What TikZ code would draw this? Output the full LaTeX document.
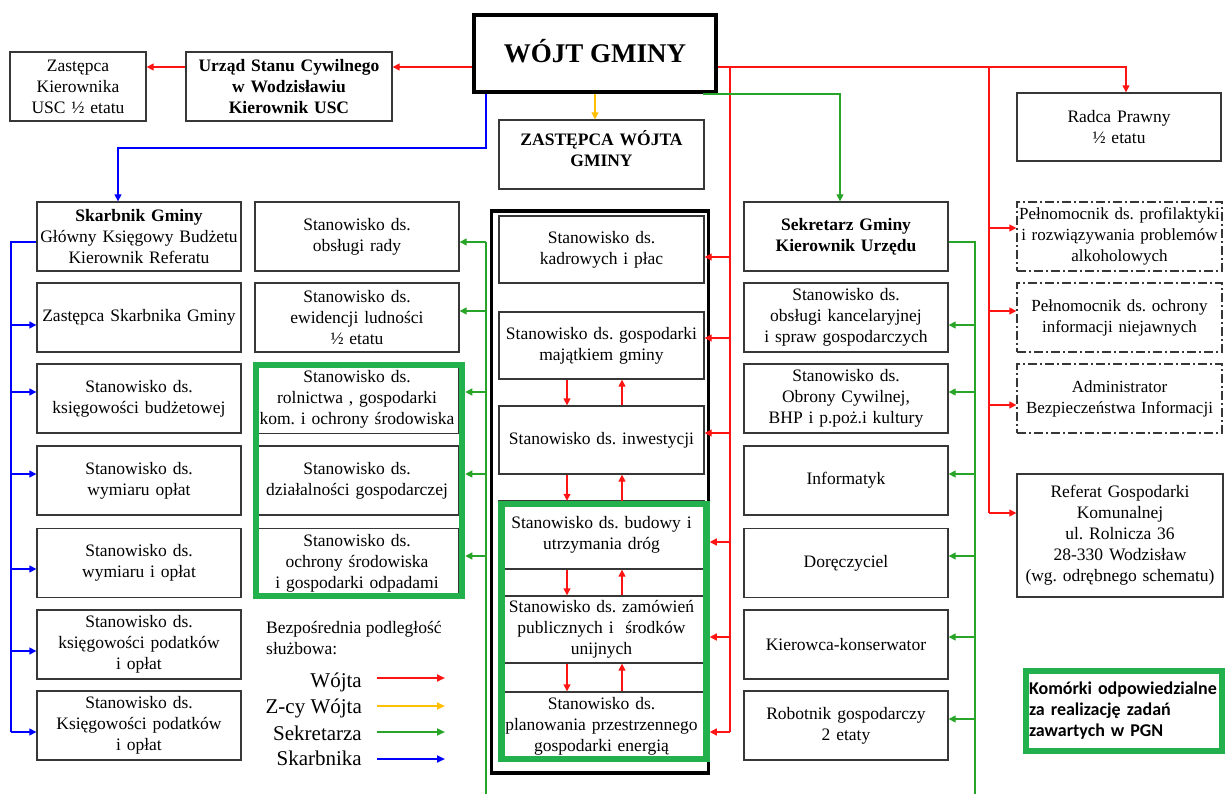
\documentclass[tikz,border=0pt]{standalone}
\usepackage{fontspec}
\setmainfont{Liberation Serif}
\newfontfamily\calib{Carlito}
\usetikzlibrary{arrows.meta}
\definecolor{cred}{RGB}{255,20,20}
\definecolor{cyel}{RGB}{255,192,0}
\definecolor{cgrn}{RGB}{40,165,40}
\definecolor{cblu}{RGB}{0,0,255}
\definecolor{pgn}{RGB}{34,177,76}
\definecolor{bord}{RGB}{55,55,55}
\newcommand\fsn{\fontsize{17.5}{21}\selectfont\frenchspacing}
\newcommand\fss{\fontsize{17}{21}\selectfont\frenchspacing}
\newcommand\fsl{\fontsize{21}{24}\selectfont}
\begin{document}
\frenchspacing
\begin{tikzpicture}[x=1pt,y=-1pt,
  bx/.style={draw=bord, line width=1.3pt, fill=white, inner sep=0pt, align=center, font=\fsn, text width=#1, minimum height=69pt},
  bx/.default=204pt,
  dd/.style={dash pattern=on 9pt off 3pt on 2pt off 3pt},
  frm/.style={draw=pgn, line width=6.5pt, inner sep=0pt},
  ar/.style={-{Triangle[length=7pt,width=7pt]}},
  rl/.style={draw=cred, line width=1.3pt},
  gl/.style={draw=cgrn, line width=1.3pt},
  bl/.style={draw=cblu, line width=1.3pt},
  yl/.style={draw=cyel, line width=1.3pt},
  lg/.style={line width=2.2pt, -{Triangle[length=8pt,width=7pt]}}
]
\useasboundingbox (0,0) rectangle (1225,794);

% ---- top row
\node[bx=136pt] (zk) at (78,86.5) {Zastępca\\Kierownika\\USC ½ etatu};
\node[bx=206pt, font=\fsn\bfseries] (usc) at (289,86.5) {Urząd Stanu Cywilnego\\w Wodzisławiu\\Kierownik USC};
\node[draw=black, line width=4pt, minimum width=242pt, minimum height=77pt, inner sep=0pt, font=\bfseries\fontsize{27}{30}\selectfont] (wojt) at (595,53.5) {\raisebox{5pt}{WÓJT GMINY}};
\node[bx=205pt, font=\fsn\bfseries] (zw) at (601.5,154.5) {ZASTĘPCA WÓJTA\\GMINY\\[-8pt]\mbox{}};
\node[bx=204pt, minimum height=68pt] (radca) at (1119,127) {Radca Prawny\\½ etatu};

% ---- column 1 (Skarbnik)
\node[bx] (sk0) at (139,236.5) {\textbf{Skarbnik Gminy}\\Główny Księgowy Budżetu\\Kierownik Referatu};
\node[bx] (sk1) at (139,317.5) {Zastępca Skarbnika Gminy};
\node[bx] (sk2) at (139,398.5) {Stanowisko ds.\\księgowości budżetowej};
\node[bx] (sk3) at (139,480.5) {Stanowisko ds.\\wymiaru opłat};
\node[bx] (sk4) at (139,563) {Stanowisko ds.\\wymiaru i opłat};
\node[bx] (sk5) at (139,644.5) {Stanowisko ds.\\księgowości podatków\\i opłat};
\node[bx] (sk6) at (139,725.5) {Stanowisko ds.\\Księgowości podatków\\i opłat};

% ---- column 2
\node[bx] (c2a) at (357,236.5) {Stanowisko ds.\\obsługi rady};
\node[bx] (c2b) at (357,317.5) {Stanowisko ds.\\ewidencji ludności\\½ etatu};
\node[bx] (c2c) at (357,399) {Stanowisko ds.\\rolnictwa , gospodarki\\kom. i ochrony środowiska};
\node[bx] (c2d) at (357,480.5) {Stanowisko ds.\\działalności gospodarczej};
\node[bx] (c2e) at (357,563) {Stanowisko ds.\\ochrony środowiska\\i gospodarki odpadami};
\node[frm, minimum width=206pt, minimum height=231pt] (g1) at (359,480.5) {};

% ---- middle column
\node[bx=205pt, minimum height=67pt] (m1) at (601.5,249.5) {Stanowisko ds.\\kadrowych i płac};
\node[bx=205pt, minimum height=67pt] (m2) at (601.5,345.5) {Stanowisko ds. gospodarki\\majątkiem gminy};
\node[bx=205pt, minimum height=68pt] (m3) at (601.5,440) {Stanowisko ds. inwestycji};
\node[bx=205pt, minimum height=68pt] (m4) at (601.5,535) {Stanowisko ds. budowy i\\utrzymania dróg};
\node[bx=205pt, minimum height=67pt] (m5) at (601.5,629.5) {Stanowisko ds. zamówień\\publicznych i \ środków\\unijnych};
\node[bx=205pt, minimum height=68pt] (m6) at (601.5,726) {Stanowisko ds.\\planowania przestrzennego\\gospodarki energią};
\node[draw=black, line width=3.5pt, minimum width=217pt, minimum height=562pt, inner sep=0pt] (blk) at (600,492) {};
\node[frm, minimum width=205pt, minimum height=255pt] (g2) at (604,631.5) {};

% ---- column 4 (Sekretarz)
\node[bx, font=\fsn\bfseries] (s0) at (846,236.5) {Sekretarz Gminy\\Kierownik Urzędu};
\node[bx] (s1) at (846,317.5) {Stanowisko ds.\\obsługi kancelaryjnej\\i spraw gospodarczych};
\node[bx] (s2) at (846,398.5) {Stanowisko ds.\\Obrony Cywilnej,\\BHP i p.poż.i kultury};
\node[bx] (s3) at (846,480.5) {Informatyk};
\node[bx] (s4) at (846,563) {Doręczyciel};
\node[bx] (s5) at (846,644.5) {Kierowca-konserwator};
\node[bx] (s6) at (846,725.5) {Robotnik gospodarczy\\2 etaty};

% ---- column 5
\node[bx=205pt, dd, font=\fss] (p1) at (1119.5,236.5) {Pełnomocnik ds. profilaktyki\\i rozwiązywania problemów\\alkoholowych};
\node[bx=205pt, dd, font=\fss] (p2) at (1119.5,317.5) {Pełnomocnik ds. ochrony\\informacji niejawnych};
\node[bx=205pt, dd, font=\fss] (p3) at (1119.5,398.5) {Administrator\\Bezpieczeństwa Informacji};
\node[bx=206pt, minimum height=123pt] (ref) at (1120,535.5) {Referat Gospodarki\\Komunalnej\\ul. Rolnicza 36\\28-330 Wodzisław\\(wg. odrębnego schematu)};

% ---- PGN note
\node[frm, line width=6pt, minimum width=196pt, minimum height=80pt, text width=190pt, align=left,
      font=\calib\bfseries\fontsize{18}{21}\selectfont] (pgnnote) at (1124,711) {Komórki odpowiedzialne\\za realizację zadań\\zawartych w PGN};

% ---- helper coordinates
\coordinate (RY) at (0,67);
\coordinate (RV) at (730,67);
\coordinate (RW) at (989,67);
\coordinate (GR) at (975,242);
\coordinate (GRb) at (975,794);
\coordinate (GL) at (486,242);
\coordinate (GLb) at (486,794);
\coordinate (BL) at (11,242);
\coordinate (B1) at (486,148);
\coordinate (DX) at (567,0);
\coordinate (UX) at (622,0);

% ---- red (Wójt)
\draw[rl, ar] (wojt.west |- RY) -- (usc.east |- RY);
\draw[rl, ar] (usc.west |- RY) -- (zk.east |- RY);
\draw[rl, ar] (wojt.east |- RY) -| ([xshift=7pt]radca.north);
\draw[rl] (RV) -- ([yshift=-6pt]m6.east -| RV);
\draw[rl, ar] ([yshift=-7.5pt]m1.east -| RV) -- ([yshift=-7.5pt]m1.east);
\draw[rl, ar] ([yshift=7.5pt]m2.east -| RV) -- ([yshift=7.5pt]m2.east);
\draw[rl, ar] ([yshift=7pt]m3.east -| RV) -- ([yshift=7pt]m3.east);
\draw[rl, ar] ([yshift=-7pt]m4.east -| RV) -- ([yshift=-7pt]m4.east -| g2.east);
\draw[rl, ar] ([yshift=-7.5pt]m5.east -| RV) -- ([yshift=-7.5pt]m5.east -| g2.east);
\draw[rl, ar] ([yshift=-6pt]m6.east -| RV) -- ([yshift=-6pt]m6.east -| g2.east);
\draw[rl] (RW) -- ([yshift=22.5pt]ref.west -| RW);
\draw[rl, ar] ([yshift=8.5pt]p1.west -| RW) -- ([yshift=8.5pt]p1.west);
\draw[rl, ar] ([yshift=6.5pt]p2.west -| RW) -- ([yshift=6.5pt]p2.west);
\draw[rl, ar] ([yshift=-6.5pt]p3.west -| RW) -- ([yshift=-6.5pt]p3.west);
\draw[rl, ar] ([yshift=22.5pt]ref.west -| RW) -- ([yshift=22.5pt]ref.west);
% vertical pairs in the middle column
\draw[rl, ar] (m2.south -| DX) -- (m3.north -| DX);
\draw[rl, ar] (m3.north -| UX) -- (m2.south -| UX);
\draw[rl, ar] (m3.south -| DX) -- (g2.north -| DX);
\draw[rl, ar] (g2.north -| UX) -- (m3.south -| UX);
\draw[rl, ar] (m4.south -| DX) -- (m5.north -| DX);
\draw[rl, ar] (m5.north -| UX) -- (m4.south -| UX);
\draw[rl, ar] (m5.south -| DX) -- (m6.north -| DX);
\draw[rl, ar] (m6.north -| UX) -- (m5.south -| UX);

% ---- yellow (Z-cy Wójta)
\draw[yl, ar] (wojt.south) -- (zw.north -| wojt.south);

% ---- green (Sekretarz)
\draw[gl, ar] ([xshift=108pt]wojt.south) -| ([xshift=-6pt]s0.north);
\draw[gl] ([yshift=-5.5pt]s0.east) -| (GRb);
\draw[gl, ar] ([yshift=-7.5pt]s1.east -| GR) -- ([yshift=-7.5pt]s1.east);
\draw[gl, ar] ([yshift=6.5pt]s2.east -| GR) -- ([yshift=6.5pt]s2.east);
\draw[gl, ar] ([yshift=6.5pt]s3.east -| GR) -- ([yshift=6.5pt]s3.east);
\draw[gl, ar] ([yshift=7pt]s4.east -| GR) -- ([yshift=7pt]s4.east);
\draw[gl, ar] ([yshift=7.5pt]s5.east -| GR) -- ([yshift=7.5pt]s5.east);
\draw[gl, ar] ([yshift=6.5pt]s6.east -| GR) -- ([yshift=6.5pt]s6.east);
\draw[gl] (GL) -- (GLb);
\draw[gl, ar] ([yshift=-5.5pt]c2a.east -| GL) -- ([yshift=-5.5pt]c2a.east);
\draw[gl, ar] ([yshift=6.5pt]c2b.east -| GL) -- ([yshift=6.5pt]c2b.east);
\draw[gl, ar] ([yshift=7pt]c2c.east -| GL) -- ([yshift=7pt]c2c.east -| g1.east);
\draw[gl, ar] ([yshift=6.5pt]c2d.east -| GL) -- ([yshift=6.5pt]c2d.east -| g1.east);
\draw[gl, ar] ([yshift=7pt]c2e.east -| GL) -- ([yshift=7pt]c2e.east -| g1.east);

% ---- blue (Skarbnik)
\draw[bl, ar] (wojt.south -| B1) -- (B1) -| ([xshift=-21pt]sk0.north);
\draw[bl] ([yshift=-5.5pt]sk0.west) -| ([yshift=-6.5pt]sk6.west -| BL);
\draw[bl, ar] ([yshift=-7.5pt]sk1.west -| BL) -- ([yshift=-7.5pt]sk1.west);
\draw[bl, ar] ([yshift=6.5pt]sk2.west -| BL) -- ([yshift=6.5pt]sk2.west);
\draw[bl, ar] ([yshift=6.5pt]sk3.west -| BL) -- ([yshift=6.5pt]sk3.west);
\draw[bl, ar] ([yshift=-6pt]sk4.west -| BL) -- ([yshift=-6pt]sk4.west);
\draw[bl, ar] ([yshift=-6.5pt]sk5.west -| BL) -- ([yshift=-6.5pt]sk5.west);
\draw[bl, ar] ([yshift=-6.5pt]sk6.west -| BL) -- ([yshift=-6.5pt]sk6.west);

% ---- legend
\node[anchor=west, align=left, font=\fsn, inner sep=0pt] (lgt) at (266,638) {Bezpośrednia podległość\\służbowa:};
\node[anchor=east, font=\fsl, inner sep=0pt] (lw1) at (362,682) {Wójta};
\node[anchor=east, font=\fsl, inner sep=0pt] (lw2) at (362,708) {Z-cy Wójta};
\node[anchor=east, font=\fsl, inner sep=0pt] (lw3) at (362,733) {Sekretarza};
\node[anchor=east, font=\fsl, inner sep=0pt] (lw4) at (362,758) {Skarbnika};
\coordinate (LA) at (377,0);
\coordinate (LB) at (445,0);
\draw[lg, cred] ([yshift=4pt]lw1.east -| LA) -- ([yshift=4pt]lw1.east -| LB);
\draw[lg, cyel] ([yshift=2pt]lw2.east -| LA) -- ([yshift=2pt]lw2.east -| LB);
\draw[lg, cgrn] ([yshift=1pt]lw3.east -| LA) -- ([yshift=1pt]lw3.east -| LB);
\draw[lg, cblu] ([yshift=-1pt]lw4.east -| LA) -- ([yshift=-1pt]lw4.east -| LB);
\end{tikzpicture}
\end{document}
